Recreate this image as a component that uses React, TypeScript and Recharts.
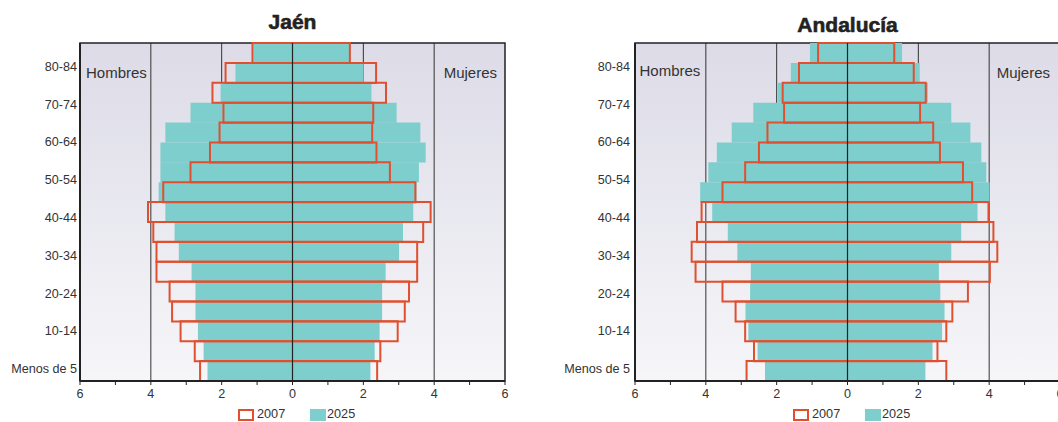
import React from 'react';
import { BarChart, Bar, XAxis, YAxis, CartesianGrid, ReferenceLine, ReferenceArea } from 'recharts';

// Age groups, youngest first (drawn bottom to top)
const ageGroups = ['Menos de 5', '5-9', '10-14', '15-19', '20-24', '25-29', '30-34', '35-39', '40-44', '45-49', '50-54', '55-59', '60-64', '65-69', '70-74', '75-79', '80-84'];

// Jaén (% of population)
const jaenMen2007 = [2.61, 2.76, 3.16, 3.40, 3.47, 3.84, 3.84, 3.93, 4.08, 3.65, 2.88, 2.33, 2.06, 1.95, 2.26, 1.89, 1.13];
const jaenWomen2007 = [2.39, 2.48, 2.97, 3.17, 3.29, 3.52, 3.52, 3.69, 3.90, 3.47, 2.75, 2.37, 2.25, 2.28, 2.64, 2.36, 1.62];
const jaenMen2025 = [2.40, 2.51, 2.67, 2.74, 2.74, 2.85, 3.21, 3.33, 3.59, 3.78, 3.73, 3.73, 3.59, 2.88, 2.03, 1.61, 1.10];
const jaenWomen2025 = [2.20, 2.32, 2.46, 2.53, 2.53, 2.63, 3.01, 3.12, 3.41, 3.50, 3.57, 3.76, 3.61, 2.94, 2.23, 2.01, 1.60];

// Andalucía (% of population)
const andMen2007 = [2.85, 2.64, 2.89, 3.16, 3.53, 4.29, 4.40, 4.25, 4.12, 3.53, 2.89, 2.50, 2.26, 1.79, 1.83, 1.37, 0.83];
const andWomen2007 = [2.79, 2.54, 2.79, 2.96, 3.40, 4.02, 4.23, 4.12, 3.98, 3.52, 3.26, 2.61, 2.42, 2.05, 2.21, 1.87, 1.32];
const andMen2025 = [2.33, 2.54, 2.80, 2.88, 2.75, 2.73, 3.11, 3.38, 3.82, 4.16, 3.93, 3.69, 3.27, 2.66, 1.97, 1.60, 1.06];
const andWomen2025 = [2.20, 2.40, 2.67, 2.74, 2.62, 2.58, 2.93, 3.21, 3.67, 4.01, 3.92, 3.78, 3.47, 2.93, 2.27, 2.04, 1.54];

const xTicks = [-6, -5, -4, -3, -2, -1, 0, 1, 2, 3, 4, 5, 6];
const gridValues = [-4, -2, 2, 4];
const seriesNames = ['2007', '2025'];

const RED = '#e0502f';
const TEAL = '#7ecece';
const INK = '#333';

type PanelProps = {
  title: string;
  left: number;
  titleTop: number;
  hombresTop: number;
  hombresLeft: number;
  mujeresRight: number;
  labelMargin: number;
  men07: number[];
  women07: number[];
  men25: number[];
  women25: number[];
  gid: string;
};

function Panel(p: PanelProps) {
  const data = ageGroups.map((age, i) => ({
    age,
    r07: [-p.men07[i], p.women07[i]],
    r25: [-p.men25[i], p.women25[i]],
  }));
  return (
    <div style={{ position: 'absolute', left: p.left, top: 0, width: 555, height: 422 }}>
      <BarChart
        width={555}
        height={422}
        data={data}
        layout="vertical"
        margin={{ top: 43, right: 50, bottom: 19, left: 0 }}
        barCategoryGap={0}
        barGap={0}
      >
        <defs>
          <linearGradient id={p.gid} x1="0" y1="0" x2="0" y2="1">
            <stop offset="0" stopColor="#dcdbe7" />
            <stop offset="1" stopColor="#f6f6f9" />
          </linearGradient>
        </defs>
        <XAxis
          type="number"
          domain={[-6, 6]}
          ticks={xTicks}
          interval={0}
          allowDataOverflow
          tickFormatter={(v: number) => (v % 2 === 0 ? String(Math.abs(v)) : '')}
          axisLine={{ stroke: '#222', strokeWidth: 2 }}
          tickLine={{ stroke: '#222' }}
          tickSize={4}
          tickMargin={4}
          tick={{ fill: INK, fontSize: 12.6 }}
          height={22}
        />
        <YAxis
          yAxisId="lab"
          type="category"
          dataKey="age"
          reversed
          width={80}
          interval={0}
          padding={{ top: 14, bottom: 3 }}
          tickFormatter={(v: string, i: number) => (i % 2 === 0 ? v : '')}
          axisLine={{ stroke: '#222', strokeWidth: 2 }}
          tickLine={false}
          tickSize={0}
          tickMargin={p.labelMargin}
          tick={{ fill: INK, fontSize: 12.6 }}
        />
        <YAxis yAxisId="b25" orientation="right" type="category" dataKey="age" reversed hide />
        <YAxis yAxisId="b07" orientation="right" type="category" dataKey="age" reversed hide />
        <CartesianGrid
          yAxisId="b25"
          horizontal={false}
          verticalValues={gridValues}
          stroke="#333"
          fill={`url(#${p.gid})`}
          fillOpacity={1}
        />
        <Bar yAxisId="b25" dataKey="r25" name={seriesNames[1]} fill={TEAL} isAnimationActive={false} />
        <Bar yAxisId="b07" dataKey="r07" name={seriesNames[0]} fill="none" stroke={RED} strokeWidth={2} isAnimationActive={false} />
        <ReferenceLine yAxisId="b25" x={0} stroke="#222" strokeWidth={1.2} />
        <ReferenceArea yAxisId="b25" x1={-6} x2={6} fill="none" stroke="#222" strokeWidth={1.5} />
      </BarChart>

      <div style={{ position: 'absolute', left: 0, width: 585, top: p.titleTop, textAlign: 'center', fontSize: 21, lineHeight: '21px', fontWeight: 'bold', color: '#222', WebkitTextStroke: '0.6px #222' }}>
        {p.title}
      </div>
      <div style={{ position: 'absolute', left: p.hombresLeft, top: p.hombresTop, fontSize: 15, lineHeight: '15px', color: INK }}>Hombres</div>
      <div style={{ position: 'absolute', right: 555 - p.mujeresRight, top: 64.5, fontSize: 15, lineHeight: '15px', color: INK }}>Mujeres</div>

      <div style={{ position: 'absolute', left: 238, top: 409, width: 16, height: 11.5, boxSizing: 'border-box', border: `2px solid ${RED}`, background: '#fff' }} />
      <div style={{ position: 'absolute', left: 257, top: 408, fontSize: 12.7, lineHeight: '13px', color: INK }}>{seriesNames[0]}</div>
      <div style={{ position: 'absolute', left: 309.5, top: 409, width: 16.5, height: 11.5, background: TEAL }} />
      <div style={{ position: 'absolute', left: 327, top: 408, fontSize: 12.7, lineHeight: '13px', color: INK }}>{seriesNames[1]}</div>
    </div>
  );
}

export default function App() {
  return (
    <div
      style={{
        position: 'absolute',
        left: 0,
        top: 0,
        width: 1058,
        height: 422,
        overflow: 'hidden',
        background: '#fff',
        fontFamily: '"Liberation Sans", Arial, Helvetica, sans-serif',
      }}
    >
      <Panel
        title="Jaén"
        left={0}
        titleTop={10.5}
        hombresTop={64.5}
        hombresLeft={86}
        mujeresRight={497}
        labelMargin={3}
        men07={jaenMen2007}
        women07={jaenWomen2007}
        men25={jaenMen2025}
        women25={jaenWomen2025}
        gid="bgJaen"
      />
      <Panel
        title="Andalucía"
        left={555}
        titleTop={14}
        hombresTop={62.5}
        hombresLeft={84.5}
        mujeresRight={495}
        labelMargin={5}
        men07={andMen2007}
        women07={andWomen2007}
        men25={andMen2025}
        women25={andWomen2025}
        gid="bgAnd"
      />
    </div>
  );
}
